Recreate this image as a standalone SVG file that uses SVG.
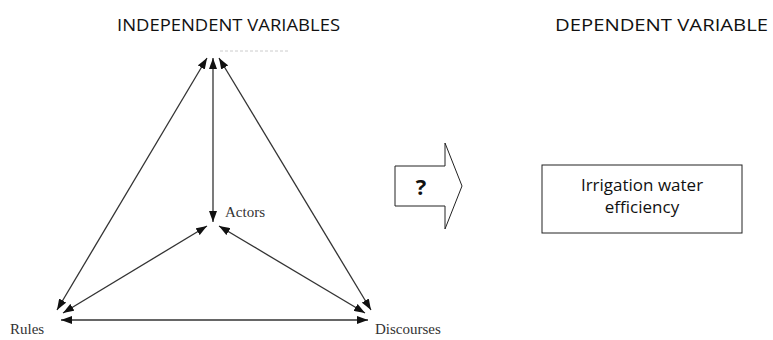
<svg xmlns="http://www.w3.org/2000/svg" width="773" height="340" viewBox="0 0 773 340">
<style>
.hdr{font-family:"Open Sans","Liberation Sans",Arial,sans-serif;font-size:15.5px;fill:#111}
.lbl{font-family:"Liberation Serif","Times New Roman",serif;font-size:15px;fill:#333}
.con{stroke:#333;stroke-width:1.3;fill:none;marker-start:url(#ah);marker-end:url(#ah)}
.box{fill:#fff;stroke:#222;stroke-width:1}
.bt{font-family:"Open Sans","Liberation Sans",Arial,sans-serif;font-size:17px;fill:#111;text-anchor:middle}
</style>
<defs>
<marker id="ah" viewBox="0 0 11 8" refX="11" refY="4" markerWidth="11" markerHeight="8" markerUnits="userSpaceOnUse" orient="auto-start-reverse">
<path d="M0,0 L11,4 L0,8 Z" fill="#111"/>
</marker>
</defs>
<text class="hdr" x="117" y="31" textLength="223" lengthAdjust="spacingAndGlyphs">INDEPENDENT VARIABLES</text>
<text class="hdr" x="555" y="31" textLength="213" lengthAdjust="spacingAndGlyphs">DEPENDENT VARIABLE</text>
<line x1="220" y1="51" x2="290" y2="51" stroke="#ccc" stroke-width="1" stroke-dasharray="3,2"/>
<g id="connectors">
<line class="con" x1="207" y1="58" x2="57" y2="310"/>
<line class="con" x1="213" y1="58" x2="213" y2="222"/>
<line class="con" x1="219" y1="58" x2="371" y2="310"/>
<line class="con" x1="207" y1="226" x2="63" y2="313"/>
<line class="con" x1="219" y1="226" x2="365" y2="313"/>
<line class="con" x1="61" y1="320" x2="368" y2="320"/>
</g>
<g id="node-actors"><text class="lbl" x="225" y="217">Actors</text></g>
<g id="node-rules"><text class="lbl" x="10" y="334">Rules</text></g>
<g id="node-discourses"><text class="lbl" x="375" y="334">Discourses</text></g>
<g id="node-question">
<polygon class="box" points="395,166 445,166 445,143 462,186 445,229 445,206 395,206"/>
<text x="421" y="195" style="font-family:'Open Sans','Liberation Sans',Arial,sans-serif;font-size:22px;font-weight:bold;fill:#111;text-anchor:middle">?</text>
</g>
<g id="node-efficiency">
<rect class="box" x="542" y="165" width="200" height="68"/>
<text class="bt" x="642" y="191">Irrigation water</text>
<text class="bt" x="642" y="213">efficiency</text>
</g>
</svg>
